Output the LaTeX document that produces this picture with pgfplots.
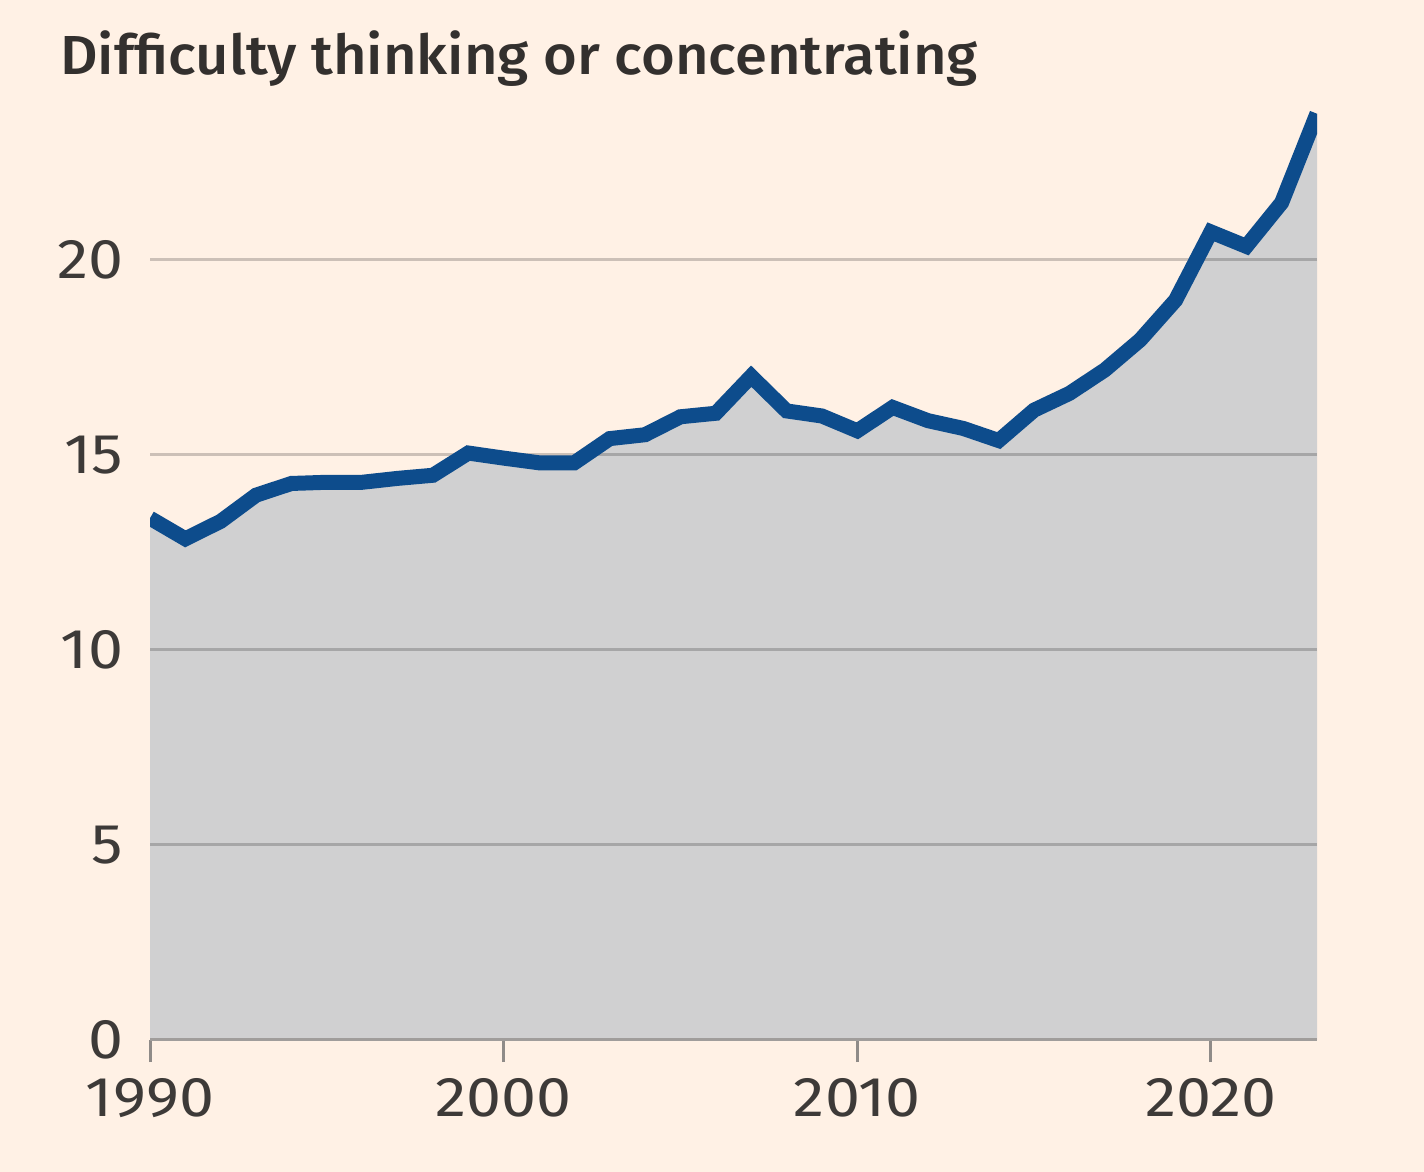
\documentclass[border=0pt]{standalone}
\usepackage{pgfplots}
\pgfplotsset{compat=1.18}
\usepackage{fontspec}
\setmainfont{Fira Sans}
\newfontfamily\titlefont{Fira Sans Medium}
\definecolor{bgcol}{HTML}{FFF1E5}
\definecolor{fillcol}{HTML}{D0D0D1}
\definecolor{linecol}{HTML}{0D4C8C}
\definecolor{titlecol}{HTML}{33302E}
\definecolor{tickcol}{HTML}{3D3A38}
\definecolor{axcol}{HTML}{A09D9B}
\definecolor{tkcol}{HTML}{8F8B88}
\pagecolor{bgcol}
\pgfplotstableread{
year val
1990 13.38
1991 12.85
1992 13.30
1993 13.97
1994 14.27
1995 14.30
1996 14.30
1997 14.40
1998 14.48
1999 15.05
2000 14.92
2001 14.80
2002 14.80
2003 15.42
2004 15.52
2005 15.98
2006 16.07
2007 17.02
2008 16.13
2009 16.00
2010 15.62
2011 16.22
2012 15.88
2013 15.68
2014 15.37
2015 16.15
2016 16.58
2017 17.18
2018 17.95
2019 18.97
2020 20.72
2021 20.35
2022 21.47
2023 23.75
}\datatable
\begin{document}
\begin{tikzpicture}
\path (0,0) rectangle (712pt,586pt);
\node[anchor=base west, inner sep=0pt, text=titlecol, xscale=1.054] at (30pt,548.5pt)
  {\titlefont\fontsize{27.5}{32}\selectfont Difficulty thinking or concentrating};
\begin{axis}[
  set layers,
  at={(75pt,66pt)}, anchor=south west,
  scale only axis, width=583.5pt, height=487.5pt,
  xmin=1990, xmax=2023, ymin=0, ymax=25,
  xtick={1990,2000,2010,2020}, ytick={0,5,10,15,20},
  axis lines*=left,
  axis line style={-},
  y axis line style={draw=none},
  x axis line style={draw=axcol, line width=1.5pt},
  ymajorgrids,
  grid style={black, opacity=0.2, line width=1.5pt},
  tick align=outside,
  major tick length=11pt,
  xtick style={draw=tkcol, line width=1.5pt},
  ytick style={draw=none},
  /pgf/number format/assume math mode=true,
  /pgf/number format/1000 sep={},
  tick label style={font=\fontsize{28}{30}\selectfont, text=tickcol, xscale=1.12},
  yticklabel style={anchor=east, inner sep=0pt, xshift=-2pt},
  xticklabel style={anchor=north, inner sep=0pt, yshift=-8pt},
]
\addplot[fill=fillcol, draw=none, on layer=axis background] table[x=year,y=val] {\datatable} \closedcycle;
\addplot[draw=linecol, line width=7.5pt, mark=none] table[x=year,y=val] {\datatable};
\end{axis}
\end{tikzpicture}
\end{document}
